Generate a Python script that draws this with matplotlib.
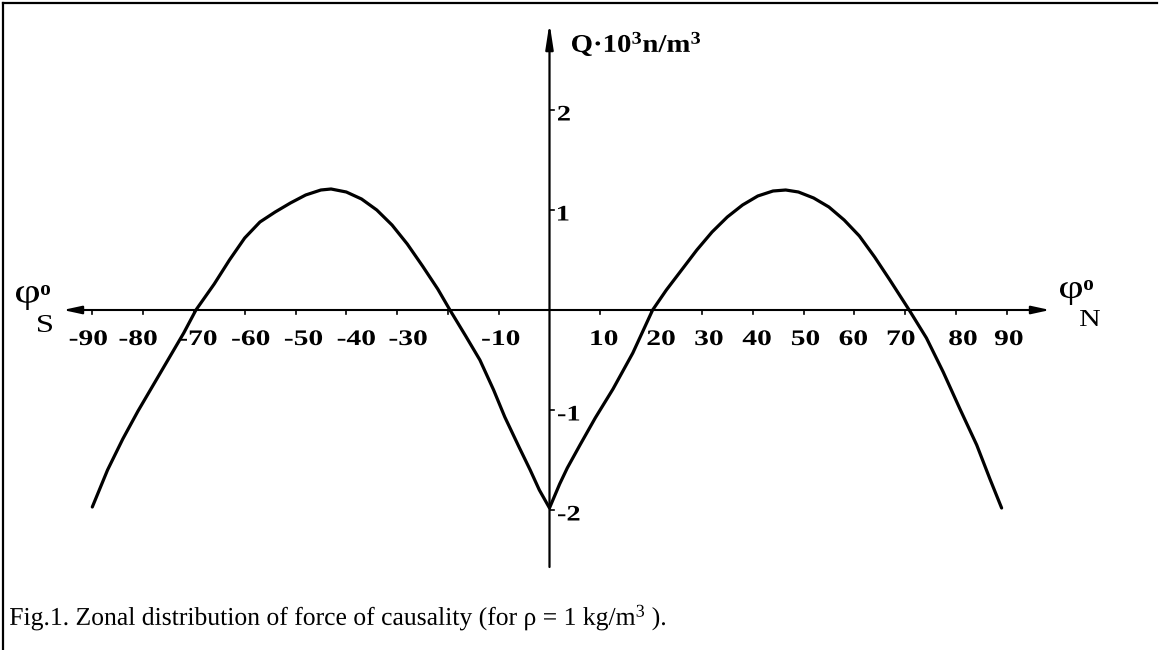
import matplotlib.pyplot as plt
from matplotlib.patches import FancyArrowPatch, PathPatch
from matplotlib.lines import Line2D
from matplotlib.textpath import TextPath
from matplotlib.font_manager import FontProperties
from matplotlib.transforms import Affine2D

plt.rcParams['font.family'] = ['Liberation Serif', 'DejaVu Serif']
plt.rcParams['mathtext.default'] = 'regular'

# Curve: latitude (deg) vs Q (10^3 N/m^3)
phi = [-90, -87, -84, -81, -78, -75, -72, -69.6,
       -66, -63, -60, -57, -54, -51, -48, -45, -43, -40, -37, -34, -31, -28, -25, -22, -19.6,
       -16.5, -13.7, -11, -8.8, -6, -3.8, -2, 0,
       1, 2, 3.5, 6, 9, 12.5, 16.4, 20.3,
       23, 26, 29, 32, 35, 38, 41, 44, 46.5, 49, 52, 55, 58, 61, 64, 67, 70.8,
       74.2, 77.5, 80.8, 84.1, 86.7, 89]
q = [-1.97, -1.60, -1.29, -1.01, -0.75, -0.49, -0.23, 0.0,
     0.26, 0.50, 0.72, 0.88, 0.98, 1.07, 1.15, 1.20, 1.21, 1.18, 1.11, 1.00, 0.85, 0.66, 0.44, 0.21, 0.0,
     -0.26, -0.50, -0.80, -1.07, -1.37, -1.60, -1.80, -1.98,
     -1.86, -1.74, -1.58, -1.35, -1.08, -0.79, -0.43, 0.0,
     0.20, 0.40, 0.60, 0.78, 0.93, 1.05, 1.14, 1.19, 1.20, 1.18, 1.12, 1.03, 0.90, 0.74, 0.53, 0.30, 0.0,
     -0.28, -0.62, -0.99, -1.35, -1.69, -1.98]

xticks = [-90, -80, -70, -60, -50, -40, -30, -20, -10, 10, 20, 30, 40, 50, 60, 70, 80, 90]
xlabels = ['-90', '-80', '-70', '-60', '-50', '-40', '-30', '', '-10',
           '10', '20', '30', '40', '50', '60', '70', '80', '90']
yticks = [2, 1, -1, -2]
ylabels = ['2', '1', '-1', '-2']

# hand-set label nudges in the original (pixels)
xlabel_nudge = [-4, -5, 4, 6, 8, 10, 11, 0, 2, 4, 10, 7, 4, 2, -1, -4, 7, 2]

# pixel <-> data mapping of the original drawing
X0, SX = 549.5, 5.08
Y0, SY = 310.0, 100.0


def fx(px):
    return (px - X0) / SX


def fy(py):
    return (Y0 - py) / SY


fig = plt.figure(figsize=(11.6, 6.5), dpi=100)
ax = fig.add_axes([0, 0, 1, 1])
ax.set_xlim(fx(0), fx(1160))
ax.set_ylim(fy(650), fy(0))
ax.axis('off')

REG = FontProperties(family='Liberation Serif')
BOLD = FontProperties(family='Liberation Serif', weight='bold')


def draw_text(s, px, py, em, stretch=1.0, ha='left', prop=BOLD):
    # text as a path so it can be stretched sideways like the original
    tp = TextPath((0, 0), s, size=em, prop=prop)
    ext = tp.get_extents()
    if ha == 'center':
        dx = -(ext.x0 + ext.width / 2)
    else:
        dx = -ext.x0
    tr = Affine2D().translate(dx, 0).scale(stretch / SX, 1 / SY).translate(fx(px), fy(py)) + ax.transData
    ax.add_patch(PathPatch(tp, transform=tr, fc='black', lw=0))


def fit_text(s, x0, y0, x1, y1, prop=REG):
    # text path squeezed into the pixel box (x0, y0)-(x1, y1)
    tp = TextPath((0, 0), s, size=20, prop=prop)
    ext = tp.get_extents()
    sx = (x1 - x0) / ext.width
    sy = (y1 - y0) / ext.height
    tr = Affine2D().translate(-ext.x0, -ext.y0).scale(sx / SX, sy / SY).translate(fx(x0), fy(y1)) + ax.transData
    ax.add_patch(PathPatch(tp, transform=tr, fc='black', lw=0))


def text_width(s, em, prop):
    return TextPath((0, 0), s, size=em, prop=prop).get_extents().width


# frame (only top and left edges show)
fig.add_artist(Line2D([3 / 1160, 3 / 1160], [0, 1 - 3 / 650], color='black', lw=1.6))
fig.add_artist(Line2D([3 / 1160, 1157 / 1160], [1 - 3 / 650, 1 - 3 / 650], color='black', lw=1.6))

# axes with arrows
ax.add_patch(FancyArrowPatch((fx(63), 0), (fx(1050), 0), arrowstyle='<|-|>,head_length=11,head_width=2.4',
                             mutation_scale=1, color='black', lw=1.5, shrinkA=0, shrinkB=0))
ax.add_patch(FancyArrowPatch((0, fy(567)), (0, fy(23)), arrowstyle='-|>,head_length=15,head_width=2.3',
                             mutation_scale=1, color='black', lw=1.6, shrinkA=0, shrinkB=0))

for t, lab, dn in zip(xticks, xlabels, xlabel_nudge):
    ax.plot([t, t], [0, fy(Y0 + 4)], color='black', lw=1.2)
    if lab:
        draw_text(lab, X0 + t * SX + dn, 345, 22.2, stretch=1.33, ha='center')

for t, lab in zip(yticks, ylabels):
    ax.plot([0, fx(X0 + 4)], [t, t], color='black', lw=1.2)
    draw_text(lab, 558, Y0 - t * SY + 10.5, 22.2, stretch=1.28)

# curve
ax.plot(phi, q, color='black', lw=2.3, solid_joinstyle='round', solid_capstyle='round')

# axis labels
qlab = 'Q·10$^3$n/m$^3$'
draw_text(qlab, 572, 52, 25.5, stretch=128 / text_width(qlab, 25.5, BOLD))

fit_text('φ', 16, 286, 39, 310)
fit_text('o', 41, 285, 50, 295, prop=BOLD)
fit_text('S', 38, 315, 52, 332)

fit_text('φ', 1060, 282, 1082, 305)
fit_text('o', 1084, 280, 1093, 290, prop=BOLD)
fit_text('N', 1080, 310, 1100, 326)

# caption
cap = 'Fig.1. Zonal distribution of force of causality (for ρ = 1 kg/m$^3$ ).'
draw_text(cap, 10, 625, 655 / text_width(cap, 1.0, REG), prop=REG)

fig.savefig('out.png', dpi=100, facecolor='white')
